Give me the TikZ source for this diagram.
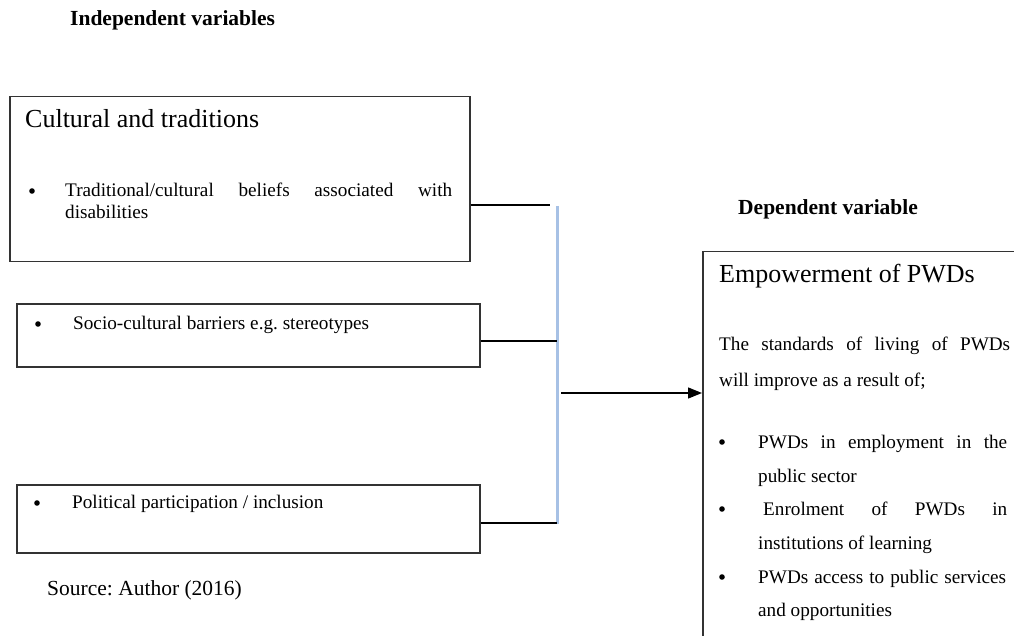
\documentclass[tikz,border=0pt]{standalone}
\usepackage{fontspec}
\setmainfont{Liberation Serif}
\usetikzlibrary{arrows.meta}
\definecolor{boxgray}{HTML}{333333}
\definecolor{busblue}{HTML}{A7C1E5}
\frenchspacing
\begin{document}
\begin{tikzpicture}[x=1pt,y=-1pt,
  box/.style={draw=boxgray, line width=1.5pt, inner sep=0pt, anchor=north west},
  txt/.style={anchor=base west, inner sep=0pt, font=\fontsize{19.2}{23}\selectfont},
  ttl/.style={anchor=base west, inner sep=0pt, font=\fontsize{26}{30}\selectfont},
  hdr/.style={anchor=base west, inner sep=0pt, font=\fontsize{21.5}{25}\selectfont\bfseries},
  conn/.style={draw=black, line width=1.3pt},
  bus/.style={draw=busblue, line width=3pt},
  bul/.style={fill=black}
]
\useasboundingbox (0,0) rectangle (1014,636);

% headings
\node[hdr] (hind) at (70,26) {Independent variables};
\node[hdr] (hdep) at (738,215) {Dependent variable};

% independent variable boxes
\node[box, minimum width=460pt, minimum height=165pt] (b1) at (9,96) {};
\node[box, minimum width=463pt, minimum height=63pt] (b2) at (16,303) {};
\node[box, minimum width=463pt, minimum height=68pt] (b3) at (16,484) {};

\node[ttl] (t1) at (25,128) {Cultural and traditions};
\fill[bul] (32,191) circle (2.8);
\node[txt] (t1a) at (65,197) {\makebox[387pt][s]{Traditional/cultural beliefs associated with}};
\node[txt] (t1b) at (65,219) {disabilities};

\fill[bul] (38,324) circle (2.8);
\node[txt] (t2) at (73,329) {Socio-cultural barriers e.g. stereotypes};

\fill[bul] (37,503) circle (2.8);
\node[txt] (t3) at (72,508) {Political participation / inclusion};

\node[txt, font=\fontsize{21.5}{25}\selectfont] (src) at (47,595) {Source: Author (2016)};

% dependent variable box (extends beyond the page edge)
\node[box, minimum width=340pt, minimum height=420pt] (b4) at (702,251) {};
\node[ttl] (t4) at (719,282) {Empowerment of PWDs};
\node[txt] (t4a) at (719,350) {\makebox[291pt][s]{The standards of living of PWDs}};
\node[txt] (t4b) at (719,386) {will improve as a result of;};

\fill[bul] (722,442) circle (2.8);
\node[txt] (t4c) at (758,448) {\makebox[249pt][s]{PWDs in employment in the}};
\node[txt] (t4d) at (758,482) {public sector};
\fill[bul] (722,509) circle (2.8);
\node[txt] (t4e) at (763,515) {\makebox[244pt][s]{Enrolment of PWDs in}};
\node[txt] (t4f) at (758,549) {institutions of learning};
\fill[bul] (722,577) circle (2.8);
\node[txt] (t4g) at (758,583) {\makebox[248pt][s]{PWDs access to public services}};
\node[txt] (t4h) at (758,616) {and opportunities};

% connectors
\coordinate (bt) at (557,206);
\coordinate (bb) at (557,524);
\draw[bus] (bt) -- (bb);
\coordinate (j1) at (550,205);
\draw[conn] (b1.east |- j1) -- (j1);
\coordinate (j2) at (557,341);
\draw[conn] (b2.east |- j2) -- (j2);
\coordinate (j3) at (557,523);
\draw[conn] (b3.east |- j3) -- (j3);
\coordinate (a0) at (561,393);
\draw[conn, -{Triangle[length=14pt,width=11pt]}] (a0) -- (b4.west |- a0);
\end{tikzpicture}
\end{document}
